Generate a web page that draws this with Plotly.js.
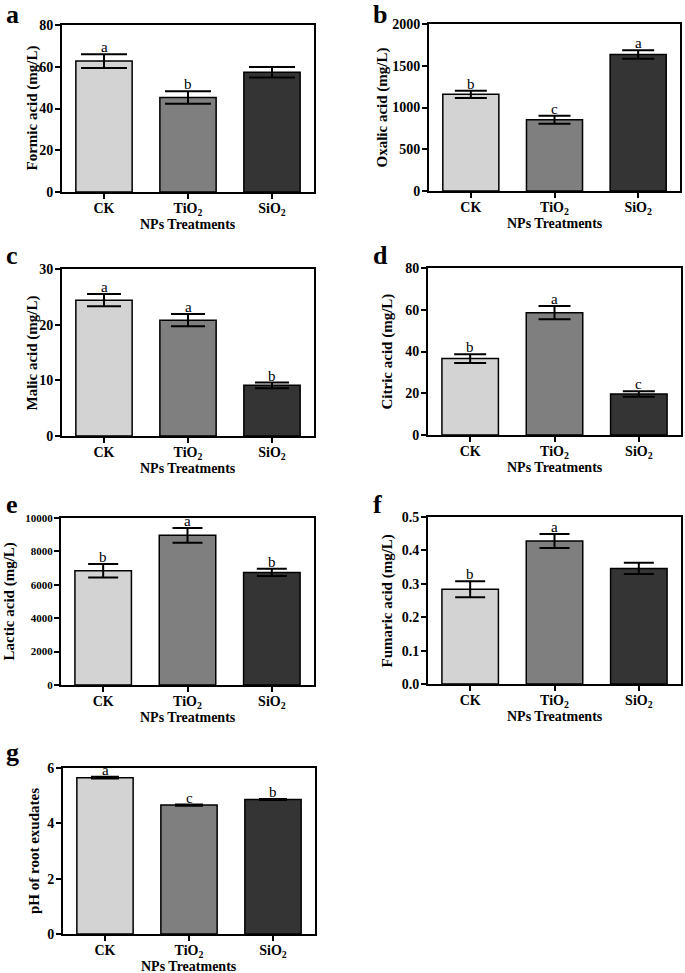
<!DOCTYPE html>
<html>
<head>
<meta charset="utf-8">
<script src="https://cdn.plot.ly/plotly-3.0.1.min.js"></script>
<style>html,body{margin:0;padding:0;background:#fff;}#chart{width:685px;height:973px;}</style>
</head>
<body>
<div id="chart"></div>
<script>
// ---- data ----
const categories = ['CK', 'TiO<sub>2</sub>', 'SiO<sub>2</sub>'];
const barColors = ['#d3d3d3', '#7f7f7f', '#343434'];

const formicMean = [62.7, 45.3, 57.4];
const formicErr = [3.3, 3.0, 2.5];
const formicLetters = ['a', 'b', ''];

const oxalicMean = [1158, 854, 1635];
const oxalicErr = [44, 48, 52];
const oxalicLetters = ['b', 'c', 'a'];

const malicMean = [24.4, 20.8, 9.1];
const malicErr = [1.1, 1.1, 0.5];
const malicLetters = ['a', 'a', 'b'];

const citricMean = [36.6, 58.6, 19.6];
const citricErr = [2.1, 3.2, 1.3];
const citricLetters = ['b', 'a', 'c'];

const lacticMean = [6840, 8960, 6740];
const lacticErr = [400, 440, 220];
const lacticLetters = ['b', 'a', 'b'];

const fumaricMean = [0.284, 0.428, 0.346];
const fumaricErr = [0.024, 0.021, 0.017];
const fumaricLetters = ['b', 'a', ''];

const phMean = [5.65, 4.66, 4.86];
const phErr = [0.03, 0.02, 0.02];
const phLetters = ['a', 'c', 'b'];

const yTitles = ['Formic acid (mg/L)', 'Oxalic acid (mg/L)', 'Malic acid (mg/L)', 'Citric acid (mg/L)',
                 'Lactic acid (mg/L)', 'Fumaric acid (mg/L)', 'pH of root exudates'];
const panelLabels = ['a', 'b', 'c', 'd', 'e', 'f', 'g'];
const xTitle = 'NPs Treatments';

// ---- layout config (pixels) ----
const W = 685, H = 973;
const panels = [
  {mean: formicMean, err: formicErr, letters: formicLetters, range: [0, 80], dtick: 20, box: [62, 314, 25, 192], cap: 23, fmt: 'd', tfs: 14, ytx: 32},
  {mean: oxalicMean, err: oxalicErr, letters: oxalicLetters, range: [0, 2000], dtick: 500, box: [429, 680, 24, 191], cap: 16, fmt: 'd', tfs: 14, ytx: 382},
  {mean: malicMean, err: malicErr, letters: malicLetters, range: [0, 30], dtick: 10, box: [62, 314, 269, 436], cap: 17, fmt: 'd', tfs: 14, ytx: 32},
  {mean: citricMean, err: citricErr, letters: citricLetters, range: [0, 80], dtick: 20, box: [428, 681, 268, 435], cap: 16, fmt: 'd', tfs: 14, ytx: 387},
  {mean: lacticMean, err: lacticErr, letters: lacticLetters, range: [0, 10000], dtick: 2000, box: [61, 314, 518, 685], cap: 15, fmt: 'd', tfs: 11, ytx: 9},
  {mean: fumaricMean, err: fumaricErr, letters: fumaricLetters, range: [0, 0.5], dtick: 0.1, box: [428, 681, 517, 684], cap: 15, fmt: '.1f', tfs: 14, ytx: 387},
  {mean: phMean, err: phErr, letters: phLetters, range: [0, 6], dtick: 2, box: [63, 315, 768, 934], cap: 14, fmt: 'd', tfs: 14, ytx: 34}
];
const labelPos = [[4, 14], [371, 14], [4, 256], [371, 256], [4, 504], [371, 504], [4, 752]];

const serif = 'Liberation Serif, Times New Roman, serif';
const traces = [];
const layout = {
  width: W, height: H,
  margin: {l: 0, r: 0, t: 0, b: 0},
  paper_bgcolor: '#fff', plot_bgcolor: '#fff',
  showlegend: false,
  bargap: 0.33,
  font: {family: serif, color: '#000'},
  annotations: []
};

panels.forEach((p, i) => {
  const n = i + 1;
  const xa = 'x' + (n === 1 ? '' : n), ya = 'y' + (n === 1 ? '' : n);
  traces.push({
    type: 'bar', x: [0, 1, 2], y: p.mean, xaxis: xa, yaxis: ya,
    marker: {color: barColors, line: {color: '#000', width: 1.5}},
    error_y: {type: 'data', array: p.err, visible: true, color: '#000', thickness: 2, width: p.cap},
    hoverinfo: 'none'
  });
  const [x0, x1, y0, y1] = p.box;
  layout['xaxis' + (n === 1 ? '' : n)] = {
    domain: [x0 / W, x1 / W], anchor: ya,
    range: [-0.5, 2.5], tickmode: 'array', tickvals: [0, 1, 2], ticktext: categories,
    showline: true, linecolor: '#000', linewidth: 2, mirror: true,
    ticks: 'outside', ticklen: 5, tickwidth: 2, tickcolor: '#000',
    ticklabelstandoff: -3,
    showgrid: false, zeroline: false, fixedrange: true,
    tickfont: {family: serif, size: 14, color: '#000', weight: 'bold'}
  };
  layout['yaxis' + (n === 1 ? '' : n)] = {
    domain: [1 - y1 / H, 1 - y0 / H], anchor: xa,
    range: p.range, dtick: p.dtick, tick0: 0, tickformat: p.fmt,
    showline: true, linecolor: '#000', linewidth: 2, mirror: true,
    ticks: 'outside', ticklen: 5, tickwidth: 2, tickcolor: '#000',
    ticklabelstandoff: -1,
    showgrid: false, zeroline: false, fixedrange: true,
    tickfont: {family: serif, size: p.tfs, color: '#000', weight: 'bold'}
  };
  // x-axis title
  layout.annotations.push({
    xref: 'paper', yref: 'paper', x: (x0 + x1) / 2 / W, y: 1 - (y1 + 32) / H,
    xanchor: 'center', yanchor: 'middle', showarrow: false,
    text: '<b>' + xTitle + '</b>', font: {family: serif, size: 14, color: '#000'}
  });
  // y-axis title
  layout.annotations.push({
    xref: 'paper', yref: 'paper', x: p.ytx / W, y: 1 - (y0 + y1) / 2 / H,
    xanchor: 'center', yanchor: 'middle', showarrow: false, textangle: -90,
    text: '<b>' + yTitles[i] + '</b>', font: {family: serif, size: 15, color: '#000'}
  });
  p.letters.forEach((t, k) => {
    if (!t) return;
    layout.annotations.push({
      xref: xa, yref: ya, x: k, y: p.mean[k] + p.err[k], text: t, showarrow: false,
      yanchor: 'bottom', yshift: -3, font: {family: serif, size: 15, color: '#000'}
    });
  });
  layout.annotations.push({
    xref: 'paper', yref: 'paper', x: labelPos[i][0] / W, y: 1 - labelPos[i][1] / H,
    xanchor: 'left', yanchor: 'middle', text: '<b>' + panelLabels[i] + '</b>', showarrow: false,
    font: {family: serif, size: 26, color: '#000'}
  });
});

Plotly.newPlot('chart', traces, layout, {staticPlot: true, displayModeBar: false});
</script>
</body>
</html>
